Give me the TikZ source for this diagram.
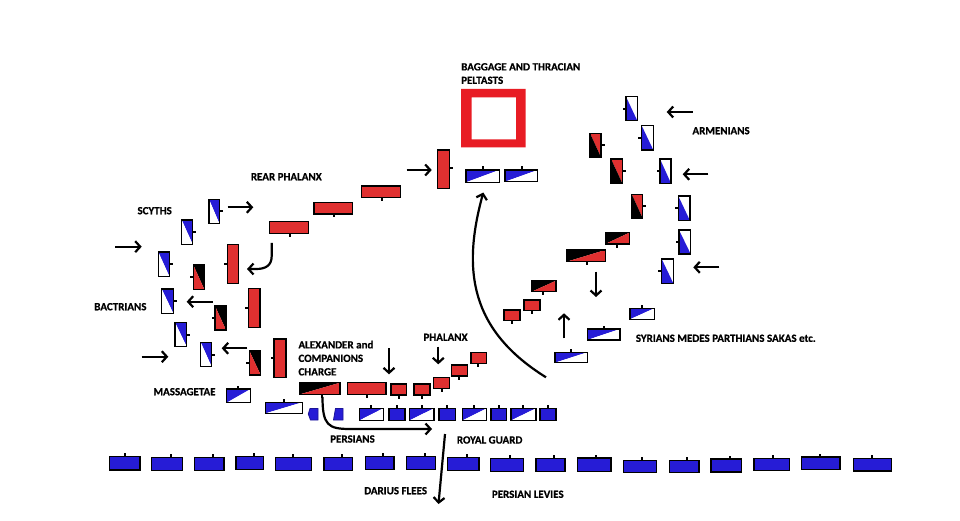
\documentclass[tikz,border=0pt]{standalone}
\usepackage{fontspec}
\setmainfont{Carlito}[BoldFeatures={FakeBold=0.6}]
\usetikzlibrary{arrows.meta}
\definecolor{ured}{RGB}{224,48,48}
\definecolor{ublue}{RGB}{38,28,214}
\definecolor{bagred}{RGB}{232,28,36}
% split, diagonal top-left to bottom-right: #1 upper-right, #2 lower-left
\newcommand{\uA}[6]{%
  \fill[#1] (#3,#4) -- (#5,#4) -- (#5,#6) -- cycle;
  \fill[#2] (#3,#4) -- (#3,#6) -- (#5,#6) -- cycle;
  \draw[unitline] (#3,#4) rectangle (#5,#6);}
% split, diagonal bottom-left to top-right: #1 upper-left, #2 lower-right
\newcommand{\uB}[6]{%
  \fill[#1] (#3,#4) -- (#5,#4) -- (#3,#6) -- cycle;
  \fill[#2] (#5,#4) -- (#5,#6) -- (#3,#6) -- cycle;
  \draw[unitline] (#3,#4) rectangle (#5,#6);}
\newcommand{\uS}[5]{\filldraw[fill=#1, unitline] (#2,#3) rectangle (#4,#5);}
\newcommand{\tkR}[2]{\draw[tickline] (#1,#2) -- ++(3.5,0);}
\newcommand{\tkL}[2]{\draw[tickline] (#1,#2) -- ++(-3.5,0);}
\newcommand{\tkT}[2]{\draw[tickline] (#1,#2) -- ++(0,-3.5);}
\newcommand{\tkB}[2]{\draw[tickline] (#1,#2) -- ++(0,3.5);}
\begin{document}
\begin{tikzpicture}[x=1pt,y=-1pt,
  unitline/.style={draw=black,line width=1.2pt},
  tickline/.style={draw=black,line width=2pt},
  arr/.style={line width=2.2pt,-{Straight Barb[length=5pt,width=11pt]}},
  lbl/.style={font=\fontsize{11}{13.5}\selectfont\bfseries,inner sep=0pt,anchor=west}]
\fill[white] (0,0) rectangle (960,521);
\useasboundingbox (0,0) rectangle (960,521);

% ---------- left wing: blue/white vertical units
\uA{ublue}{white}{209}{199.3}{219.3}{223.3} \tkR{219.3}{211.3}
\uA{ublue}{white}{181.7}{220}{192.7}{244.3} \tkR{192.7}{232.2}
\uA{ublue}{white}{158.3}{252}{169.5}{276.7} \tkR{169.5}{264.3}
\uA{ublue}{white}{161.7}{289}{173.3}{313.3} \tkR{173.3}{301.2}
\uA{ublue}{white}{175}{322.3}{186.7}{346.7} \tkR{186.7}{334.5}
\uA{ublue}{white}{200.7}{342.3}{211.7}{366.7} \tkR{211.7}{354.5}
% left red/black vertical units
\uA{black}{ured}{193.3}{265}{204.3}{289.3} \tkL{193.3}{277.2}
\uA{black}{ured}{215}{306}{226}{330} \tkL{215}{318}
\uA{black}{ured}{249.3}{350.7}{260.7}{375} \tkL{249.3}{362.8}
% left tall red units
\uS{ured}{227.7}{244.3}{238.3}{283.3} \tkL{227.7}{263.8}
\uS{ured}{248.3}{288.3}{260}{327.3} \tkL{248.3}{307.8}
\uS{ured}{274}{339}{286}{377.3} \tkL{274}{358.2}

% ---------- rear phalanx
\uS{ured}{269.3}{221.7}{308.3}{233.3} \tkB{290}{233.3}
\uS{ured}{314}{202.3}{352.7}{214} \tkB{334.3}{214}
\uS{ured}{361.7}{186}{400.7}{197.7} \tkB{382.3}{197.7}
\uS{ured}{437.3}{150}{449.3}{188.3} \tkR{449.3}{168.3}

% baggage
\fill[bagred,even odd rule] (461,89) rectangle (525.7,147.3) (471.7,97.3) rectangle (516,139.3);
\uB{ublue}{white}{466}{170}{499.3}{182.3} \tkT{482.7}{170}
\uB{ublue}{white}{505}{170}{537.7}{181.7} \tkT{521.7}{170}

% ---------- right wing: white/blue vertical units
\uA{white}{ublue}{626}{96.7}{637.3}{120.7} \tkL{626}{108.7}
\uA{white}{ublue}{641.7}{125.7}{653.3}{150} \tkL{641.7}{137.8}
\uA{white}{ublue}{660}{159}{671}{183.3} \tkL{660}{171.2}
\uA{white}{ublue}{678.3}{196}{690}{220.7} \tkL{678.3}{208.3}
\uA{white}{ublue}{679}{230}{690.7}{254} \tkL{679}{242}
\uA{white}{ublue}{661.7}{259}{673.3}{283.3} \tkL{661.7}{271.2}
% right red/black vertical units
\uA{ured}{black}{590}{133.3}{601}{157.3} \tkR{601}{145.3}
\uA{ured}{black}{611}{159}{622.3}{183.3} \tkR{622.3}{171.2}
\uA{ured}{black}{631.7}{194.3}{642.7}{218.3} \tkR{642.7}{206.3}
% black/red horizontal units
\uB{black}{ured}{605.3}{232.7}{629.3}{244} \tkB{617.3}{244}
\uB{black}{ured}{566.7}{250}{605.3}{261.7} \tkB{586.7}{261.7}
\uB{black}{ured}{531.7}{280.7}{556}{291.7} \tkB{543.3}{291.7}
\uS{ured}{524}{300}{540}{310.7} \tkB{531.7}{310.7}
\uS{ured}{504}{310}{520}{320.7} \tkB{512}{320.7}
% right blue horizontal
\uB{ublue}{white}{630}{308.3}{654.3}{319.3} \tkT{642.3}{308.3}
\uB{ublue}{white}{587.3}{329}{620}{340} \tkT{603.7}{329}
\uB{ublue}{white}{555}{352.3}{587.3}{362.7} \tkT{570.7}{352.3}

% ---------- centre: Alexander and phalanx
\uB{black}{ured}{300}{382.7}{340}{394.3} \tkB{322.3}{394.3}
\uS{ured}{347.3}{382.7}{386}{394.3} \tkB{367.3}{394.3}
\uS{ured}{391}{384}{406.7}{395} \tkB{398.7}{395}
\uS{ured}{414}{384}{430}{395} \tkB{422}{395}
\uS{ured}{433.3}{377.7}{449.3}{388.3} \tkB{441.7}{388.3}
\uS{ured}{451.7}{365}{467.7}{376} \tkB{459.3}{376}
\uS{ured}{471}{352.7}{486.7}{363.3} \tkB{478.3}{363.3}

% ---------- Persian centre line
\uB{ublue}{white}{226.7}{389}{250.7}{402.7} \tkT{238.3}{389}
\uB{ublue}{white}{265.7}{402.3}{302.3}{413.3} \tkT{284}{402.3}
\filldraw[fill=ublue,draw=ublue!70!black,line width=0.8pt] (310,408.5) -- (318,408.5) -- (318,420) -- (310.5,420) -- (308.3,414) -- cycle;
\filldraw[fill=ublue,draw=ublue!70!black,line width=0.8pt] (335.5,408.5) -- (343,408.5) -- (343,420) -- (333.5,420) -- cycle;
\uB{ublue}{white}{359.3}{408.3}{383.3}{420.5} \tkT{370.7}{408.3}
\uS{ublue}{389}{408.3}{405}{420.5} \tkT{397}{408.3}
\uB{ublue}{white}{409.3}{408.3}{434}{420.5} \tkT{421.7}{408.3}
\uS{ublue}{439}{408.3}{455.7}{420.5} \tkT{447.3}{408.3}
\uB{ublue}{white}{462.3}{408.3}{486.7}{420.5} \tkT{474.3}{408.3}
\uS{ublue}{491}{408.3}{506.7}{420.5} \tkT{498.7}{408.3}
\uB{ublue}{white}{511}{408.3}{536}{420.5} \tkT{523.3}{408.3}
\uS{ublue}{540}{408.3}{556}{420.5} \tkT{548}{408.3}

% ---------- Persian levies
\uS{ublue}{109.3}{456.7}{140}{470} \tkT{124.7}{456.7}
\uS{ublue}{151.7}{457.3}{182.3}{470.3} \tkT{170.7}{457.3}
\uS{ublue}{194.3}{457.3}{224}{470.3} \tkT{213.3}{457.3}
\uS{ublue}{236}{456.7}{263.3}{469.7} \tkT{254.3}{456.7}
\uS{ublue}{275.7}{457.3}{311.7}{470.3} \tkT{293.3}{457.3}
\uS{ublue}{324}{457.3}{352.3}{470.3} \tkT{342.3}{457.3}
\uS{ublue}{365.7}{456.7}{394}{469.7} \tkT{383.3}{456.7}
\uS{ublue}{406.7}{456.7}{435.7}{469.7} \tkT{425}{456.7}
\uS{ublue}{447.7}{457.3}{479}{470.3} \tkT{466.7}{457.3}
\uS{ublue}{490.7}{458.3}{523.3}{471.7} \tkT{510}{458.3}
\uS{ublue}{536}{458.3}{565}{471.3} \tkT{554}{458.3}
\uS{ublue}{577.7}{458}{611}{471.3} \tkT{596}{458}
\uS{ublue}{623.3}{460.7}{656.7}{472.7} \tkT{641.7}{460.7}
\uS{ublue}{669.3}{460.7}{699}{472.7} \tkT{687.3}{460.7}
\uS{ublue}{711}{459}{741.7}{472} \tkT{729.7}{459}
\uS{ublue}{754}{458.7}{789.3}{470.7} \tkT{772.7}{458.7}
\uS{ublue}{801.7}{457}{840}{469.3} \tkT{820}{457}
\uS{ublue}{853.3}{458.3}{891.7}{471} \tkT{872}{458.3}

% ---------- arrow end points
\coordinate (s1a) at (227.7,207.3); \coordinate (s1b) at (253.3,207.3);
\coordinate (s2a) at (115,246.7);   \coordinate (s2b) at (141.7,246.7);
\coordinate (c1a) at (271.7,243);   \coordinate (c1b) at (247,269);
\coordinate (b1a) at (212.7,301.7); \coordinate (b1b) at (186.7,301.7);
\coordinate (m1a) at (141.7,356.7); \coordinate (m1b) at (168.3,356.7);
\coordinate (b2a) at (247.3,348.3); \coordinate (b2b) at (221.7,348.3);
\coordinate (r1a) at (406.7,170);   \coordinate (r1b) at (431.7,170);
\coordinate (bga) at (546,377.3);   \coordinate (bgb) at (483.3,192.5);
\coordinate (a1a) at (692.7,112);   \coordinate (a1b) at (666.7,112);
\coordinate (a2a) at (708.3,174.3); \coordinate (a2b) at (682.7,174.3);
\coordinate (a3a) at (719.3,267.3); \coordinate (a3b) at (693.3,267.3);
\coordinate (d1a) at (596,271.5);   \coordinate (d1b) at (596,297);
\coordinate (u1a) at (564,338.3);   \coordinate (u1b) at (564,313.3);
\coordinate (x1a) at (389,348.3);   \coordinate (x1b) at (389,374.3);
\coordinate (p1a) at (438.3,346.7); \coordinate (p1b) at (438.3,364.3);
\coordinate (cha) at (322.5,397);   \coordinate (chb) at (432,429);
\coordinate (dfa) at (445,434);     \coordinate (dfb) at (438.5,504);

\draw[arr] (s1a) -- (s1b);
\draw[arr] (s2a) -- (s2b);
\draw[arr] (c1a) -- (271.7,256) .. controls (271.7,266) and (265,269) .. (256,269) -- (c1b);
\draw[arr] (b1a) -- (b1b);
\draw[arr] (m1a) -- (m1b);
\draw[arr] (b2a) -- (b2b);
\draw[arr] (r1a) -- (r1b);
\draw[arr] (bga) .. controls (470,330) and (462,270) .. (bgb);
\draw[arr] (a1a) -- (a1b);
\draw[arr] (a2a) -- (a2b);
\draw[arr] (a3a) -- (a3b);
\draw[arr] (d1a) -- (d1b);
\draw[arr] (u1a) -- (u1b);
\draw[arr] (x1a) -- (x1b);
\draw[arr] (p1a) -- (p1b);
\draw[arr] (cha) .. controls (322.5,425) and (328,429) .. (350,429) -- (chb);
\draw[arr] (dfa) -- (dfb);

% ---------- labels
\node[lbl] (scyths) at (137.3,210.7) {SCYTHS};
\node[lbl,anchor=east] (bactrians) at (146.7,306.7) {BACTRIANS};
\node[lbl] (massagetae) at (153.3,391.7) {MASSAGETAE};
\node[lbl] (rear) at (250.7,176.7) {REAR PHALANX};
\node[lbl,anchor=north west,align=left] (baggage) at (461,63) {BAGGAGE AND THRACIAN\\PELTASTS};
\node[lbl] (armenians) at (692.3,130.7) {ARMENIANS};
\node[lbl] (syrians) at (635.7,338.3) {SYRIANS MEDES PARTHIANS SAKAS etc.};
\node[lbl,anchor=north west,align=left] (alex) at (298.3,340.5) {ALEXANDER and\\COMPANIONS\\CHARGE};
\node[lbl] (phalanx) at (423.3,337.3) {PHALANX};
\node[lbl] (persians) at (330,439) {PERSIANS};
\node[lbl] (royal) at (456.7,440) {ROYAL GUARD};
\node[lbl] (darius) at (364,490.7) {DARIUS FLEES};
\node[lbl] (levies) at (491.7,494.3) {PERSIAN LEVIES};
\end{tikzpicture}
\end{document}
